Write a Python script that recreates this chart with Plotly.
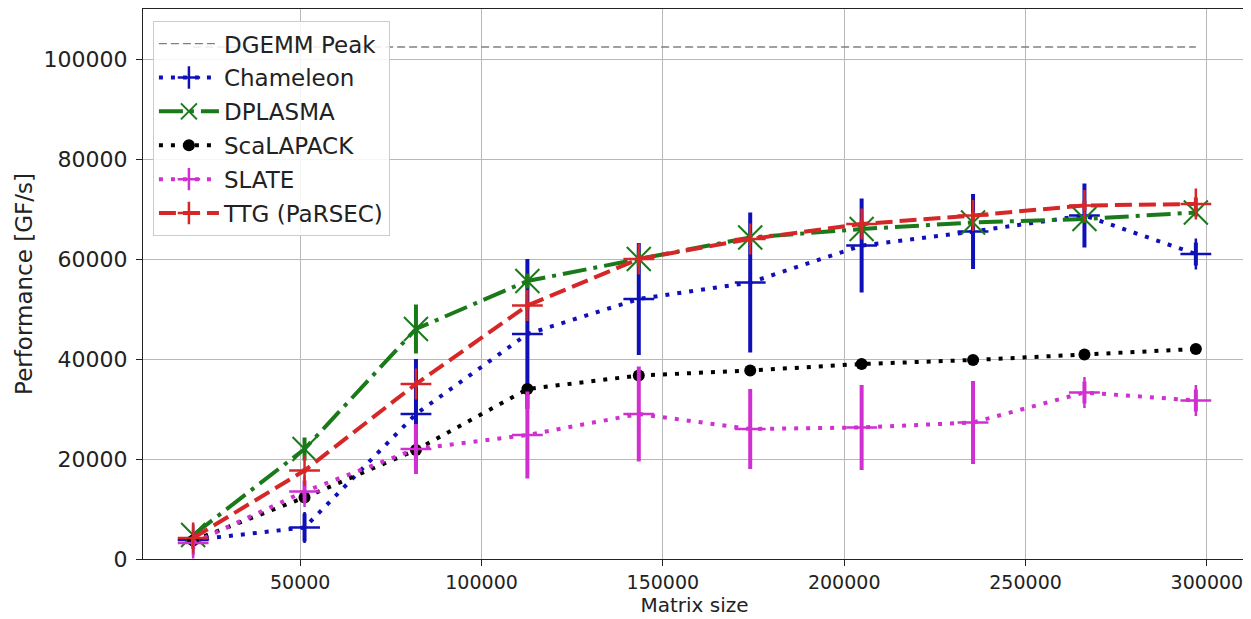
import plotly.graph_objects as go

# ---- data ----
matrix_size = [20480, 51200, 81920, 112640, 143360, 174080, 204800, 235520, 266240, 296960]

dgemm_peak = 102400

chameleon = [3800, 6300, 29000, 45000, 52000, 55300, 62700, 65500, 68700, 61000]
chameleon_err = [1000, 2800, 11000, 15000, 11200, 14000, 9400, 7500, 6400, 2300]

dplasma = [4800, 22000, 46000, 55600, 60000, 64300, 66000, 67300, 68000, 69300]
dplasma_err = [600, 2300, 4900, 1500, 1500, 1000, 800, 800, 800, 800]

scalapack = [3700, 12300, 21800, 34000, 36700, 37700, 39000, 39800, 40900, 42000]
scalapack_err = [200, 300, 300, 400, 400, 400, 400, 400, 400, 400]

slate = [3200, 13500, 22000, 24800, 29000, 26000, 26300, 27300, 33300, 31700]
slate_err = [1200, 2200, 5000, 8700, 9500, 8000, 8500, 8300, 2200, 2200]

ttg = [4200, 17700, 35000, 50700, 60000, 64000, 67000, 68700, 70700, 71000]
ttg_err = [300, 500, 600, 800, 800, 800, 800, 800, 1000, 1300]

x_ticks = [50000, 100000, 150000, 200000, 250000, 300000]
y_ticks = [0, 20000, 40000, 60000, 80000, 100000]

FONT = "DejaVu Sans"
TXT = "#222222"

fig = go.Figure()

# DGEMM peak reference line
fig.add_trace(go.Scatter(
    x=[matrix_size[0], matrix_size[-1]], y=[dgemm_peak, dgemm_peak],
    mode="lines", name="DGEMM Peak",
    line=dict(color="#808080", width=1.3, dash="8px,4px"),
    legendgroup="g0",
))

series = [
    ("Chameleon", chameleon, chameleon_err, "#1010b8", "4px,8px", "cross-thin", 22, 2.5),
    ("DPLASMA", dplasma, dplasma_err, "#1a7a1a", "24px,7px,4px,7px", "x-thin", 24, 2),
    ("ScaLAPACK", scalapack, scalapack_err, "#000000", "4px,8px", "circle", 12, 0),
    ("SLATE", slate, slate_err, "#d030d0", "4px,8px", "cross-thin", 22, 2.5),
    ("TTG (PaRSEC)", ttg, ttg_err, "#d62728", "17px,7px", "cross-thin", 22, 2.5),
]

for i, (name, vals, errs, color, dash, sym, msize, mlw) in enumerate(series):
    fig.add_trace(go.Scatter(
        x=matrix_size, y=vals, name=name, mode="lines+markers",
        line=dict(color=color, width=4, dash=dash),
        marker=dict(symbol=sym, size=msize, color=color,
                    line=dict(color=color, width=mlw)),
        error_y=dict(type="data", array=errs, visible=True,
                     color=color, thickness=4, width=0),
        legendgroup="g%d" % (i + 1),
    ))

# The page body adds an 8px offset, so the figure is 8px smaller and the
# margins are shifted to keep the plot area where the reference has it.
fig.update_layout(
    width=1243, height=611,
    margin=dict(l=135, r=5, t=1, b=60, autoexpand=False),
    paper_bgcolor="white", plot_bgcolor="white",
    font=dict(family=FONT, size=21, color=TXT),
    showlegend=True,
    legend=dict(
        x=0.009, y=0.978, xanchor="left", yanchor="top",
        bgcolor="rgba(255,255,255,0.85)", bordercolor="#cccccc", borderwidth=1,
        font=dict(family=FONT, size=23, color=TXT),
        tracegroupgap=1, itemwidth=60,
    ),
)

fig.update_xaxes(
    range=[6656, 310784],
    tickmode="array", tickvals=x_ticks, tickformat="d",
    showgrid=True, gridcolor="#b8b8b8", gridwidth=1.2,
    showline=True, linecolor="#222222", linewidth=1.3, mirror=True,
    ticks="outside", ticklen=6, tickcolor="#222222",
    zeroline=False, automargin=False,
    title=dict(text="Matrix size", standoff=4, font=dict(size=20)),
    tickfont=dict(size=19),
)
fig.update_yaxes(
    range=[0, 110000],
    tickmode="array", tickvals=y_ticks, tickformat="d",
    showgrid=True, gridcolor="#b8b8b8", gridwidth=1.2,
    showline=True, linecolor="#222222", linewidth=1.3, mirror=True,
    ticks="outside", ticklen=6, tickcolor="#222222",
    zeroline=False, automargin=False, ticklabelstandoff=4,
    title=dict(text="Performance [GF/s]", standoff=4, font=dict(size=23)),
    tickfont=dict(size=22),
)

fig.write_html("out.html")
